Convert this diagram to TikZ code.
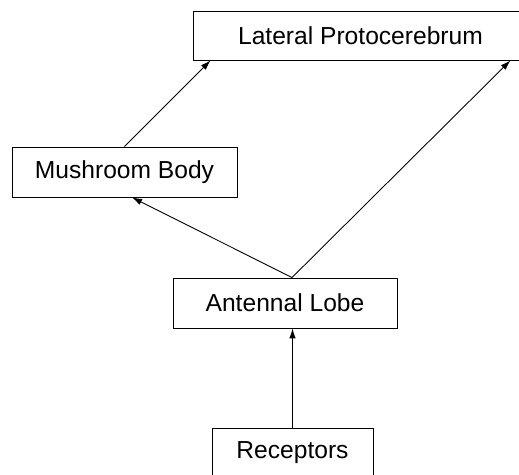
\documentclass[tikz,border=0pt]{standalone}
\usepackage{fontspec}
\setmainfont{Liberation Sans}
\usetikzlibrary{positioning,arrows.meta}
\tikzset{region/.style={draw,rectangle,line width=0.5pt,inner sep=0pt,font=\fontsize{14}{16}\selectfont,minimum height=1cm}}
\tikzset{link/.style={-{Latex[length=2mm,width=1.3mm]},line width=0.5pt}}

\begin{document}
\begin{tikzpicture}
\clip (0,0) rectangle (10.38,9.5);
\node[region,minimum width=6.7cm,minimum height=0.98cm] (lp) at (7.21,8.79) {Lateral Protocerebrum};
\node[region,minimum width=4.5cm] (mb) at (2.49,6.06) {Mushroom Body};
\node[region,minimum width=4.48cm] (al) at (5.70,3.44) {Antennal Lobe};
\node[region,minimum width=3.22cm] (rec) at (5.85,0.44) {Receptors};

\coordinate (top) at ([xshift=0.14cm]al.north);
\draw[link] (mb.north) -- ([xshift=0.36cm]lp.south west);
\draw[link] (top) -- ([xshift=0.15cm]mb.south);
\draw[link] (top) -- ([xshift=-0.36cm]lp.south east);
\draw[link] (rec.north) -- (rec.north |- al.south);
\end{tikzpicture}
\end{document}
